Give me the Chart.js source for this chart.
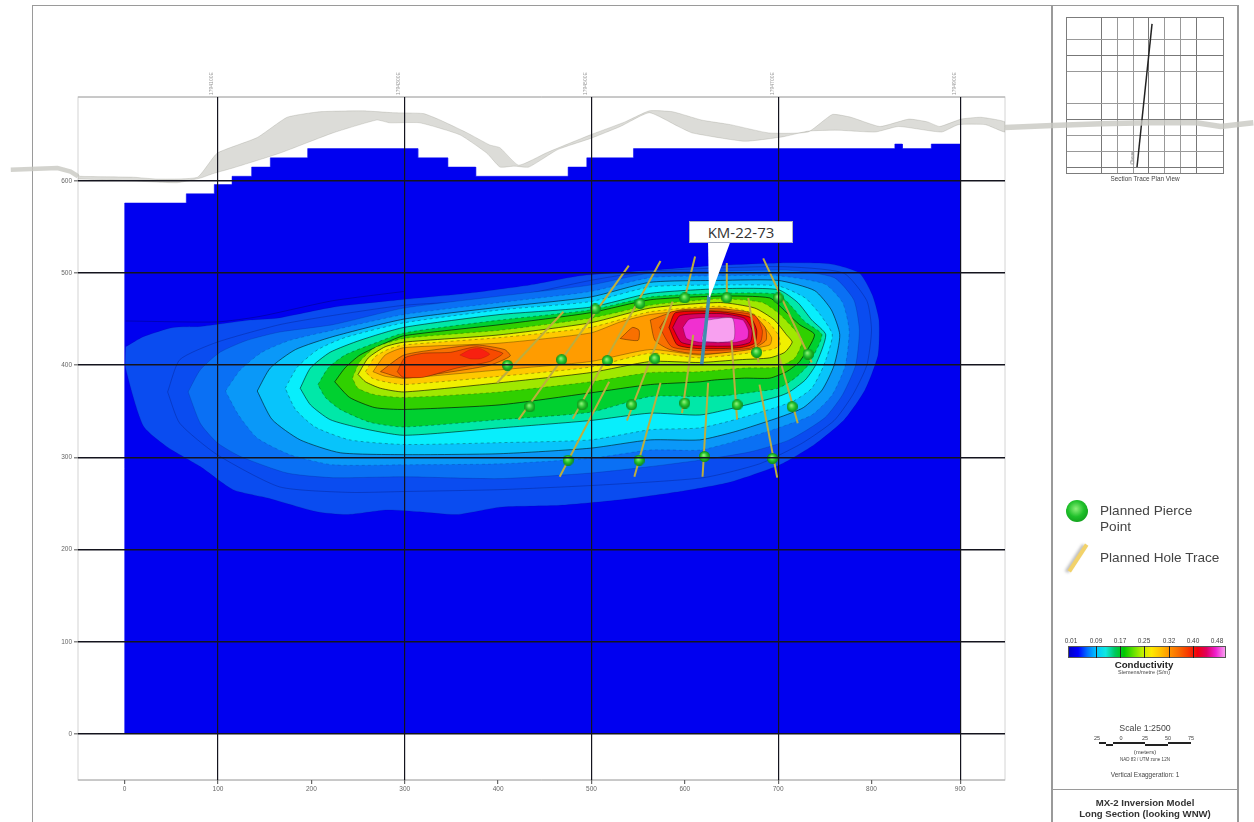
<!DOCTYPE html>
<html>
<head>
<meta charset="utf-8">
<title>MX-2 Inversion Model</title>
<script src="https://cdn.jsdelivr.net/npm/chart.js@4"></script>
<style>
    html, body { margin: 0; padding: 0; background: #fff; overflow: hidden; }
    body { width: 1254px; height: 822px; position: relative; font-family: "Liberation Sans", Arial, sans-serif; color: #444; }
    canvas { position: absolute; filter: blur(0.5px); }
    #mainChart { left: 0; top: 0; z-index: 2; }
    #insetChart { left: 1066px; top: 17px; z-index: 1; }
    .line { position: absolute; background: #9a9a9a; }
    .txt { position: absolute; white-space: nowrap; transform: translate(-50%, -50%); line-height: 1; filter: blur(0.3px); }
    .left { transform: translate(0, -50%); }
    #colorBar { position: absolute; left: 1068px; top: 646px; width: 158px; height: 12px; border: 1px solid #555; box-sizing: border-box; }
    .barTick { position: absolute; top: 646px; width: 1px; height: 12px; background: #222; }
    #calloutTip { position: absolute; left: 700px; top: 240px; width: 40px; height: 58px; background: #fff; z-index: 3; clip-path: polygon(8px 0, 31px 0, 10px 57px, 9px 57px); }
    #calloutBox { position: absolute; left: 689px; top: 221px; width: 104px; height: 22px; background: #fff; border: 1px solid #aeb4bd; box-sizing: border-box; z-index: 3; text-align: center; font: 15px/20px "Open Sans", sans-serif; color: #333; }
    #legendBall { position: absolute; left: 1066px; top: 500px; width: 22px; height: 22px; border-radius: 50%; background: radial-gradient(circle at 45% 40%, #8df07a 0, #1fc02a 45%, #0a8a14 100%); }
    #legendTrace { position: absolute; left: 1076px; top: 542px; width: 4px; height: 32px; background: #f2d26a; transform: rotate(33deg); box-shadow: -2px 2px 3px #bbb; }
</style>
</head>
<body>
<div class="line" style="left:32px;top:5px;width:1205px;height:1px"></div>
<div class="line" style="left:32px;top:5px;width:1px;height:817px"></div>
<div class="line" style="left:1051px;top:5px;width:2px;height:817px"></div>
<div class="line" style="left:1237px;top:5px;width:2px;height:817px"></div>
<div class="line" style="left:1051px;top:789px;width:186px;height:1px"></div>

<canvas id="insetChart" width="158" height="157"></canvas>
<div class="txt" style="left:1145px;top:179px;font-size:6.4px">Section Trace Plan View</div>
<div class="txt" style="left:1133px;top:158px;font-size:5.5px;transform:translate(-50%,-50%) rotate(-90deg)">Oxus</div>

<div id="legendBall"></div>
<div class="txt left" style="left:1100px;top:511px;font-size:13.6px">Planned Pierce</div>
<div class="txt left" style="left:1100px;top:527px;font-size:13.6px">Point</div>
<div id="legendTrace"></div>
<div class="txt left" style="left:1100px;top:558px;font-size:13.6px">Planned Hole Trace</div>

<div id="colorBar"></div>
<div id="barLabels"></div>
<div class="txt" style="left:1144px;top:665px;font-size:9.7px;font-weight:bold;color:#222">Conductivity</div>
<div class="txt" style="left:1144px;top:673px;font-size:5.5px">Siemens/metre (S/m)</div>

<div class="txt" style="left:1145px;top:728px;font-size:8.8px">Scale 1:2500</div>
<div class="txt" style="left:1097px;top:739px;font-size:5.5px">25</div>
<div class="txt" style="left:1121px;top:739px;font-size:5.5px">0</div>
<div class="txt" style="left:1145px;top:739px;font-size:5.5px">25</div>
<div class="txt" style="left:1168px;top:739px;font-size:5.5px">50</div>
<div class="txt" style="left:1191px;top:739px;font-size:5.5px">75</div>
<svg style="position:absolute;left:1095px;top:740px" width="100" height="10">
    <g fill="#222">
        <rect x="4" y="2" width="7" height="2"/><rect x="11" y="4" width="7" height="2"/><rect x="18" y="2" width="8" height="2"/>
        <rect x="26" y="2" width="24" height="2"/><rect x="50" y="4" width="23" height="2"/><rect x="73" y="2" width="23" height="2"/>
    </g>
</svg>
<div class="txt" style="left:1145px;top:752px;font-size:6px">(meters)</div>
<div class="txt" style="left:1145px;top:760px;font-size:4.5px">NAD 83 / UTM zone 12N</div>
<div class="txt" style="left:1145px;top:775px;font-size:6.5px">Vertical Exaggeration: 1</div>
<div class="txt" style="left:1145px;top:803px;font-size:9.6px;font-weight:bold;color:#333">MX-2 Inversion Model</div>
<div class="txt" style="left:1145px;top:814px;font-size:9.6px;font-weight:bold;color:#333">Long Section (looking WNW)</div>

<canvas id="mainChart" width="1254" height="822"></canvas>
<div id="calloutTip"></div>
<div id="calloutBox">KM-22-73</div>

<script>
// --- axis values ---
const xTickValues = [0, 100, 200, 300, 400, 500, 600, 700, 800, 895];
const xTickLabels = ['0', '100', '200', '300', '400', '500', '600', '700', '800', '900'];
const xGridValues = [100, 300, 500, 700, 895];
const topTickLabels = ['1794100E', '1794300E', '1794500E', '1794700E', '1794900E'];
const yTickValues = [0, 100, 200, 300, 400, 500, 600];

// --- model outline (stepped top of the mesh) ---
const meshX = [0, 0, 66, 66, 96, 96, 115, 115, 136, 136, 156, 156, 196, 196, 314, 314, 346, 346, 376, 376, 475, 475, 495, 495, 545, 545, 825, 825, 833, 833, 864, 864, 895, 895];
const meshY = [0, 576, 576, 586, 586, 596, 596, 605, 605, 615, 615, 625, 625, 635, 635, 625, 625, 615, 615, 605, 605, 615, 615, 625, 625, 635, 635, 640, 640, 635, 635, 640, 640, 0];

// --- topography ribbon ---
const groundTop = [[-50,607],[-48,605],[9,604],[35,602],[78,604],[99,630],[142,647],[174,669],[209,675],[255,676],[287,674],[320,673],[338,666],[367,652],[391,639],[402,636],[422,617],[453,631],[499,650],[536,664],[562,676],[587,675],[618,666],[649,661],[690,652],[732,653],[758,672],[778,669],[809,659],[840,667],[860,664],[873,659],[896,667],[917,669],[943,664]];
const groundBottom = [[943,653],[922,661],[893,661],[875,653],[829,659],[804,653],[763,655],[732,654],[706,648],[664,643],[608,652],[593,659],[562,674],[531,659],[499,646],[464,634],[433,615],[417,616],[402,615],[388,630],[359,650],[316,663],[284,663],[270,666],[223,652],[166,630],[116,614],[95,608],[81,603],[56,598],[9,600],[-48,602],[-50,602]];
const groundTailRight = [[1209,663],[1174,659],[1148,663],[1097,663],[1046,662],[994,660],[943,658]];
const groundTailLeft = [[-50,605],[-58,610],[-72,614],[-122,612]];

// --- conductivity contours, outer to inner ---
const c1 = [[1,420],[20,431],[52,441],[81,442],[134,449],[163,451],[223,463],[295,471],[367,478],[434,487],[488,497],[563,503],[630,508],[702,511],[755,510],[787,500],[801,476],[808,449],[807,411],[793,373],[771,341],[739,314],[702,292],[648,273],[595,263],[531,254],[466,248],[402,246],[356,238],[316,241],[281,243],[238,238],[206,241],[153,256],[116,265],[81,290],[46,311],[20,334],[1,397]];
const c2 = [[68,371],[81,395],[102,414],[131,427],[166,436],[223,444],[299,462],[402,475],[499,487],[563,500],[638,502],[712,503],[760,495],[781,471],[787,438],[783,400],[769,368],[750,343],[712,319],[670,306],[616,297],[563,290],[499,283],[402,277],[299,279],[223,278],[174,283],[124,301],[99,316],[81,337]];
const c3 = [[108,372],[124,395],[147,414],[177,427],[223,438],[299,455],[402,468],[499,480],[563,495],[638,497],[700,497],[750,488],[769,468],[776,438],[772,400],[758,368],[736,346],[700,332],[659,319],[616,308],[563,308],[499,299],[402,293],[299,292],[223,292],[177,303],[142,321],[122,346]];
const c4 = [[142,372],[156,397],[183,417],[223,431],[299,450],[402,463],[499,474],[563,490],[638,492],[700,492],[739,481],[757,460],[766,433],[760,400],[747,373],[727,354],[700,343],[654,328],[616,319],[563,319],[499,310],[402,304],[299,303],[231,305],[188,319],[158,341]];
const c5 = [[172,375],[185,398],[207,417],[236,430],[299,446],[402,460],[499,469],[563,485],[638,487],[700,486],[729,473],[745,455],[758,433],[749,400],[736,375],[718,362],[700,355],[654,341],[616,332],[563,330],[499,319],[402,316],[299,314],[241,319],[204,333],[183,352]];
const c6 = [[188,375],[199,397],[220,414],[252,427],[299,441],[402,455],[499,463],[563,478],[638,483],[700,482],[721,468],[736,449],[751,433],[740,400],[729,384],[712,371],[700,366],[654,354],[616,346],[563,348],[499,340],[402,332],[299,324],[252,332],[220,341],[199,357]];
const c7 = [[207,379],[218,397],[236,411],[268,424],[299,435],[402,449],[499,460],[563,474],[638,478],[700,477],[715,463],[729,447],[747,433],[732,400],[718,386],[700,375],[675,371],[643,367],[616,366],[563,366],[499,349],[402,341],[299,333],[263,338],[231,352],[215,365]];
const c8 = [[225,382],[236,397],[252,411],[279,424],[299,432],[402,444],[499,457],[563,471],[638,475],[691,473],[707,459],[723,444],[739,433],[723,404],[709,393],[691,386],[664,386],[632,384],[616,382],[563,379],[499,370],[402,357],[299,352],[268,354],[241,365]];
const c9 = [[244,386],[252,404],[268,419],[299,429],[402,438],[499,451],[563,465],[638,472],[683,468],[702,455],[718,438],[726,427],[718,408],[700,398],[664,397],[616,393],[563,392],[499,382],[402,371],[299,365],[268,368],[250,375]];
const c10 = [[250,390],[261,408],[279,420],[299,425],[402,433],[499,446],[563,462],[638,468],[675,462],[696,449],[709,433],[715,425],[707,414],[691,408],[659,406],[616,403],[563,404],[499,392],[402,381],[299,371],[274,375],[258,382]];
const c11 = [[258,393],[268,409],[284,418],[299,422],[402,430],[499,441],[563,458],[638,464],[668,458],[689,447],[700,433],[702,422],[693,417],[659,412],[616,408],[563,413],[499,398],[402,388],[299,379],[279,382],[265,386]];
const c12 = [[266,393],[279,411],[299,419],[402,424],[499,435],[531,447],[563,455],[638,462],[664,455],[683,444],[693,430],[691,422],[664,417],[616,411],[563,417],[499,404],[402,395],[299,386],[279,388]];
const c13a = [[274,393],[299,411],[341,418],[377,422],[407,417],[413,410],[391,400],[338,391],[299,386]];
const c13b = [[563,449],[595,460],[638,461],[670,457],[686,441],[687,427],[670,417],[616,412],[584,417],[568,427]];
const c13c = [[533,431],[544,441],[551,438],[550,427],[531,429]];
const c14a = [[292,393],[300,408],[320,413],[349,414],[377,420],[405,413],[391,404],[356,397],[320,387],[298,387]];
const c14b = [[359,411],[370,417],[381,418],[391,412],[381,407],[370,407]];
const c14c = [[573,441],[586,458],[638,459],[675,454],[683,438],[681,425],[668,418],[616,416],[586,420]];
const c15 = [[583,441],[590,457],[638,458],[670,452],[677,438],[675,424],[659,419],[616,418],[592,422]];
const c16 = [[587,441],[595,454],[638,456],[664,451],[672,438],[670,425],[654,421],[616,421],[596,425]];
const c17 = [[598,441],[605,450],[638,452],[662,449],[668,438],[667,429],[654,425],[616,425],[602,429]];
const c18 = [[624,449],[651,451],[652,427],[619,427]];
const outerLine = [[46,371],[59,406],[99,425],[166,444],[223,454],[299,465],[402,472],[499,492],[563,502],[700,507],[770,500],[795,470],[800,438],[795,400],[780,368],[760,340],[725,315],[680,293],[620,278],[509,270],[402,265],[299,263],[241,262],[166,268],[99,303],[59,337]];
const outerLine2 = [[1,448],[99,447],[145,453],[223,470],[299,480]];

const contours = [c1, c2, c3, c4, c5, c6, c7, c8, c9, c10, c11, c12, c13a, c13b, c13c, c14a, c14b, c14c, c15, c16, c17, c18];
const contourColors = ['#0a4cf0', '#0a70f4', '#0a98f8', '#08c4fb', '#08eefc', '#00e8a8', '#00d030', '#30d000', '#a0e800', '#f0f000', '#ffc800', '#ff9c00', '#f87000', '#f87000', '#f87000', '#f84a00', '#f82010', '#f84a00', '#f0000a', '#d80060', '#f030d0', '#f8a0f0'];
const contourWeights = [0.3, 0.4, 0.4, 0.9, 0.5, 0.9, 0.5, 1, 0.4, 1, 0.5, 0.5, 0.6, 0.6, 0.6, 0.5, 0.2, 0.5, 0.8, 0.7, 0.4, 0.4];
const dashedLevels = [2, 4, 6, 8, 10];

// --- planned holes [x1, y1, x2, y2] ---
const holeTraces = [[540,508,422,341],[574,513,480,342],[519,382,466,279],[587,469,538,340],[611,518,600,473],[609,433,597,348],[645,511,645,473],[650,427,656,341],[684,516,736,403],[668,473,679,403],[700,413,721,337],[680,379,699,278],[625,381,619,279],[574,381,546,279],[470,458,399,381]];
const drilledHole = [[626,476],[618,400]];
const pierceX = [504,468,434,552,517,490,568,543,600,600,645,656,700,677,732,715,475,551,621,694,410];
const pierceY = [461,406,355,467,405,357,407,357,473,359,473,357,473,414,412,355,297,297,301,299,400];

// --- plan view inset ---
const insetXTicks = [0, 1, 2, 3, 4, 5, 6];
const insetYTicks = [0, 1, 2, 3, 4, 6, 7, 8];
const sectionTraceX = [3.19, 2.25];
const sectionTraceY = [9, 0];

// --- colour bar ---
const barValues = ['0.01', '0.09', '0.17', '0.25', '0.32', '0.40', '0.48'];
const barPositions = [1071, 1096, 1120, 1144, 1169, 1193, 1217];
const barColors = ['#0000c8', '#0000ff', '#0070ff', '#00c8ff', '#10e8e0', '#00c860', '#00c800', '#60e000', '#c0f000', '#ffe800', '#ffc000', '#ff9000', '#f86800', '#f83800', '#f00010', '#e00060', '#f020d0', '#f8a0f0'];

function buildColorBar() {
    document.getElementById('colorBar').style.background = 'linear-gradient(90deg,' + barColors.join(',') + ')';
    const holder = document.getElementById('barLabels');
    barValues.forEach((v, i) => {
        const t = document.createElement('div');
        t.className = 'txt';
        t.style.cssText = 'left:' + barPositions[i] + 'px;top:641px;font-size:6.5px';
        t.textContent = v;
        holder.appendChild(t);
        if (i > 0 && i < barValues.length - 1) {
            const m = document.createElement('div');
            m.className = 'barTick';
            m.style.left = barPositions[i] + 'px';
            holder.appendChild(m);
        }
    });
}

function toPoints(pairs) {
    return pairs.map(p => ({ x: p[0], y: p[1] }));
}

function closed(pairs) {
    return toPoints(pairs.concat([pairs[0]]));
}

// small shaded ball used for the pierce points
function makeBall(size) {
    const c = document.createElement('canvas');
    c.width = size;
    c.height = size;
    const g = c.getContext('2d');
    const r = size / 2;
    const grad = g.createRadialGradient(r * 0.85, r * 0.75, 0.5, r, r, r);
    grad.addColorStop(0, '#90f078');
    grad.addColorStop(0.5, '#28c830');
    grad.addColorStop(1, '#0e8a18');
    g.fillStyle = grad;
    g.beginPath();
    g.arc(r, r, r, 0, Math.PI * 2);
    g.fill();
    return c;
}

function buildDatasets() {
    const sets = [];
    const base = { showLine: true, pointRadius: 0, pointHoverRadius: 0 };

    sets.push({ ...base, data: meshX.map((x, i) => ({ x: x, y: meshY[i] })), fill: 'shape', backgroundColor: '#0000f0', borderColor: '#0000f0', borderWidth: 0.5 });
    sets.push({ ...base, data: toPoints(outerLine2), borderColor: 'rgba(0,0,60,0.45)', borderWidth: 0.7, tension: 0.2 });

    contours.forEach((pairs, i) => {
        sets.push({
            ...base,
            data: closed(pairs),
            fill: 'shape',
            tension: 0.2,
            backgroundColor: contourColors[i],
            borderColor: i < 3 ? 'rgba(0,0,70,0.4)' : 'rgba(0,0,0,0.6)',
            borderWidth: contourWeights[i],
            borderDash: dashedLevels.includes(i) ? [3, 3] : []
        });
        if (i === 0) {
            sets.push({ ...base, data: closed(outerLine), tension: 0.2, borderColor: 'rgba(0,0,70,0.4)', borderWidth: 0.6 });
        }
    });

    sets.push({ ...base, data: closed(groundTop.concat(groundBottom)), fill: 'shape', tension: 0.15, backgroundColor: 'rgba(205,205,199,0.7)', borderColor: 'rgba(130,130,120,0.4)', borderWidth: 0.6 });
    sets.push({ ...base, data: toPoints(groundTailRight), clip: false, borderColor: 'rgba(200,200,194,0.8)', borderWidth: 5.5 });
    sets.push({ ...base, data: toPoints(groundTailLeft), clip: false, borderColor: 'rgba(200,200,194,0.8)', borderWidth: 4.5 });

    holeTraces.forEach(h => {
        sets.push({ ...base, data: [{ x: h[0], y: h[1] }, { x: h[2], y: h[3] }], borderColor: '#bdae3e', borderWidth: 2 });
    });
    sets.push({ ...base, data: toPoints(drilledHole), borderColor: '#3f8fae', borderWidth: 3.5 });

    sets.push({
        data: pierceX.map((x, i) => ({ x: x, y: pierceY[i] })),
        showLine: false,
        pointStyle: makeBall(11),
        pointRadius: 5.5,
        pointHoverRadius: 5.5
    });
    return sets.reverse(); // first dataset is drawn on top
}

// thin box round the plot
const plotFrame = {
    id: 'plotFrame',
    beforeDatasetsDraw(chart) {
        const a = chart.chartArea;
        const ctx = chart.ctx;
        ctx.save();
        ctx.strokeStyle = '#d4d4d4';
        ctx.lineWidth = 1;
        ctx.strokeRect(a.left, a.top, a.width, a.height);
        ctx.strokeStyle = '#a8a8a8';
        ctx.beginPath();
        ctx.moveTo(a.left, a.top);
        ctx.lineTo(a.right, a.top);
        ctx.moveTo(a.left, a.bottom);
        ctx.lineTo(a.right, a.bottom);
        ctx.stroke();
        ctx.restore();
    }
};

// darker box for the inset
const insetFrame = {
    id: 'insetFrame',
    afterDraw(chart) {
        const a = chart.chartArea;
        const ctx = chart.ctx;
        ctx.save();
        ctx.strokeStyle = '#7c7c7c';
        ctx.lineWidth = 1;
        ctx.strokeRect(a.left + 0.5, a.top + 0.5, a.width - 1, a.height - 1);
        ctx.restore();
    }
};

buildColorBar();

new Chart(document.getElementById('mainChart'), {
    type: 'scatter',
    data: { datasets: buildDatasets() },
    plugins: [plotFrame],
    options: {
        responsive: false,
        animation: false,
        devicePixelRatio: 1,
        layout: { padding: { left: 0, right: 249, top: 0, bottom: 0 } },
        plugins: { legend: { display: false }, tooltip: { enabled: false } },
        scales: {
            x: {
                type: 'linear',
                min: -50,
                max: 943,
                afterFit: s => { s.height = 42; },
                afterBuildTicks: s => { s.ticks = xTickValues.map(v => ({ value: v })); },
                ticks: {
                    autoSkip: false,
                    maxRotation: 0,
                    font: { size: 6.5 },
                    color: '#666',
                    padding: 1,
                    callback: (v, i) => xTickLabels[i]
                },
                border: { display: false },
                grid: {
                    z: 1,
                    tickLength: 4,
                    tickColor: '#666',
                    lineWidth: 1.2,
                    color: c => (c.tick && xGridValues.includes(c.tick.value)) ? '#14141e' : 'rgba(0,0,0,0)'
                }
            },
            xTop: {
                type: 'linear',
                axis: 'x',
                position: 'top',
                min: -50,
                max: 943,
                afterFit: s => { s.height = 97; },
                afterBuildTicks: s => { s.ticks = xGridValues.map(v => ({ value: v })); },
                ticks: {
                    autoSkip: false,
                    minRotation: 90,
                    maxRotation: 90,
                    font: { size: 5 },
                    color: '#999',
                    padding: 2,
                    callback: (v, i) => topTickLabels[i]
                },
                border: { display: false },
                grid: { drawOnChartArea: false, drawTicks: false }
            },
            y: {
                type: 'linear',
                min: -50,
                max: 691,
                afterFit: s => { s.width = 78; },
                afterBuildTicks: s => { s.ticks = yTickValues.map(v => ({ value: v })); },
                ticks: { font: { size: 6.5 }, color: '#666', padding: 2 },
                border: { display: false },
                grid: { z: 1, color: '#14141e', lineWidth: 1.5, tickLength: 4, tickColor: '#888' }
            }
        }
    }
});

new Chart(document.getElementById('insetChart'), {
    type: 'scatter',
    data: {
        datasets: [{
            data: sectionTraceX.map((x, i) => ({ x: x, y: sectionTraceY[i] })),
            showLine: true,
            pointRadius: 0,
            borderColor: '#222',
            borderWidth: 1.5
        }]
    },
    plugins: [insetFrame],
    options: {
        responsive: false,
        animation: false,
        devicePixelRatio: 1,
        layout: { padding: 0 },
        plugins: { legend: { display: false }, tooltip: { enabled: false } },
        scales: {
            x: {
                type: 'linear',
                min: -2.19,
                max: 7.69,
                afterBuildTicks: s => { s.ticks = insetXTicks.map(v => ({ value: v })); },
                ticks: { display: false },
                border: { display: false },
                grid: { drawTicks: false, color: c => (c.tick && c.tick.value % 3 === 0) ? '#777' : '#999' }
            },
            y: {
                type: 'linear',
                min: -0.44,
                max: 9.43,
                afterBuildTicks: s => { s.ticks = insetYTicks.map(v => ({ value: v })); },
                ticks: { display: false },
                border: { display: false },
                grid: { drawTicks: false, color: c => (c.tick && [0, 3, 7].includes(c.tick.value)) ? '#777' : '#999' }
            }
        }
    }
});
</script>
</body>
</html>
